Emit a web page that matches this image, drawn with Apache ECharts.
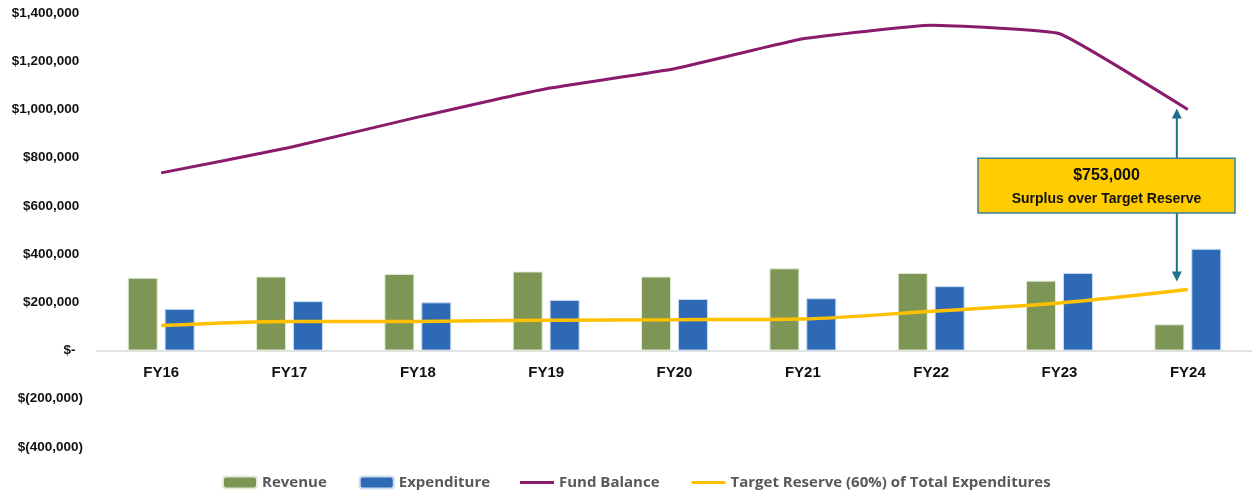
<!DOCTYPE html>
<html>
<head>
<meta charset="utf-8">
<script src="https://cdn.jsdelivr.net/npm/echarts@6/dist/echarts.min.js"></script>
<style>
  html, body { margin: 0; padding: 0; background: #fff; }
  #chart { width: 1252px; height: 493px; }
</style>
</head>
<body>
<div id="chart"></div>
<script>
const years = ["FY16", "FY17", "FY18", "FY19", "FY20", "FY21", "FY22", "FY23", "FY24"];
const revenue = [302000, 307000, 318000, 328000, 307000, 341000, 322000, 290000, 109000];
const expenditure = [173000, 205000, 200000, 210000, 214000, 217000, 267000, 322000, 422000];
const fundBalance = [737000, 842000, 968000, 1086000, 1169000, 1293000, 1349000, 1314000, 1000000];
const targetReserve = [104000, 121000, 121000, 126000, 128000, 131000, 163000, 197000, 253000];
const surplusLabel = "$753,000";
const surplusText = "Surplus over Target Reserve";

function money(v) {
  if (v === 0) return "$-  ";
  let s = Math.abs(v).toLocaleString("en-US");
  return v < 0 ? "$(" + s + ")" : "$" + s + " ";
}

const legendText = { color: "#595959", fontSize: 15, fontWeight: "bold", fontFamily: "Open Sans, sans-serif" };

let myChart = echarts.init(document.getElementById("chart"));
myChart.setOption({
  animation: false,
  textStyle: { fontFamily: "Liberation Sans, Arial, sans-serif" },
  grid: { left: 97, right: -2, top: 13, bottom: 46 },
  legend: [
    {
      left: 217,
      bottom: -2,
      itemWidth: 34,
      itemHeight: 12,
      itemGap: 32,
      textStyle: legendText,
      data: ["Revenue", "Expenditure"],
    },
    {
      left: 515,
      bottom: -2,
      icon: "rect",
      itemWidth: 34,
      itemHeight: 3,
      itemGap: 32,
      textStyle: legendText,
      data: ["Fund Balance", "Target Reserve (60%) of Total Expenditures"],
    },
  ],
  xAxis: {
    type: "category",
    data: years,
    axisLine: { onZero: false, lineStyle: { color: "#d9d9d9", width: 1.5 } },
    axisTick: { show: false },
    axisLabel: { color: "#111", fontWeight: "bold", fontSize: 15, margin: 15 },
  },
  yAxis: {
    type: "value",
    min: -400000,
    max: 1400000,
    interval: 200000,
    splitLine: { show: false },
    axisLine: { show: false },
    axisTick: { show: false },
    axisLabel: { color: "#111", fontWeight: "bold", fontSize: 13.5, margin: 14, formatter: money },
  },
  series: [
    {
      name: "Revenue",
      type: "bar",
      data: revenue,
      barWidth: 30,
      barGap: "23%",
      itemStyle: { color: "#7d9555", borderColor: "#e4ecd8", borderWidth: 1 },
    },
    {
      name: "Expenditure",
      type: "bar",
      data: expenditure,
      barWidth: 30,
      itemStyle: { color: "#2e69b5", borderColor: "#c9dcf2", borderWidth: 1 },
    },
    {
      name: "Fund Balance",
      type: "line",
      data: fundBalance,
      symbol: "none",
      smooth: 0.1,
      lineStyle: { color: "#8a1b6c", width: 3 },
      itemStyle: { color: "#8a1b6c" },
    },
    {
      name: "Target Reserve (60%) of Total Expenditures",
      type: "line",
      data: targetReserve,
      symbol: "none",
      smooth: 0.3,
      lineStyle: { color: "#ffc000", width: 3.5 },
      itemStyle: { color: "#ffc000" },
      z: 5,
    },
  ],
});

// put the category axis on the zero line (labels included)
const zeroY = myChart.convertToPixel({ yAxisIndex: 0 }, 0);
const floorY = myChart.convertToPixel({ yAxisIndex: 0 }, -400000);
myChart.setOption({ xAxis: { offset: -(floorY - zeroY) } });

// annotation box with arrows, placed from the axes
const last = years.length - 1;
const tipUp = myChart.convertToPixel({ seriesIndex: 2 }, [last, fundBalance[last]]);
const tipDown = myChart.convertToPixel({ seriesIndex: 3 }, [last, targetReserve[last]]);
const boxTop = myChart.convertToPixel({ yAxisIndex: 0 }, 798000);
const boxBottom = myChart.convertToPixel({ yAxisIndex: 0 }, 570000);
const ax = tipUp[0] - 11;
const boxL = 978, boxR = 1235;
const teal = "#1f6e8c";

myChart.setOption({
  graphic: [
    { type: "line", shape: { x1: ax, y1: boxTop, x2: ax, y2: tipUp[1] + 8 }, style: { stroke: teal, lineWidth: 2 }, z: 100 },
    { type: "polygon", shape: { points: [[ax, tipUp[1] - 1], [ax - 5, tipUp[1] + 9], [ax + 5, tipUp[1] + 9]] }, style: { fill: teal }, z: 100 },
    { type: "line", shape: { x1: ax, y1: boxBottom, x2: ax, y2: tipDown[1] - 17 }, style: { stroke: teal, lineWidth: 2 }, z: 100 },
    { type: "polygon", shape: { points: [[ax, tipDown[1] - 8], [ax - 5, tipDown[1] - 18], [ax + 5, tipDown[1] - 18]] }, style: { fill: teal }, z: 100 },
    {
      type: "rect",
      shape: { x: boxL, y: boxTop, width: boxR - boxL, height: boxBottom - boxTop },
      style: { fill: "#ffcc00", stroke: "#3a7ea3", lineWidth: 1.5 },
      z: 100,
    },
    {
      type: "text",
      x: (boxL + boxR) / 2,
      y: boxTop + 17,
      style: { text: surplusLabel, fill: "#111", font: "bold 16px Liberation Sans, Arial, sans-serif", align: "center", verticalAlign: "middle" },
      z: 101,
    },
    {
      type: "text",
      x: (boxL + boxR) / 2,
      y: boxTop + 41,
      style: { text: surplusText, fill: "#111", font: "bold 14px Liberation Sans, Arial, sans-serif", align: "center", verticalAlign: "middle" },
      z: 101,
    },
  ],
});
</script>
</body>
</html>
